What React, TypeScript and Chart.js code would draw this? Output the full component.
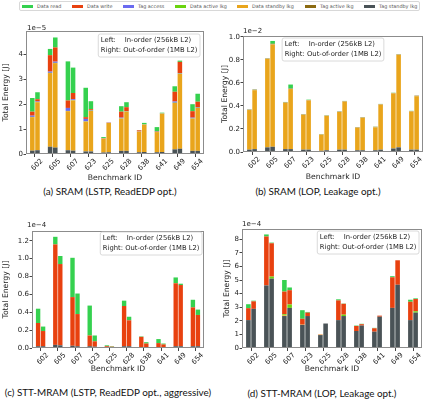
import React, { useEffect, useRef } from "react";
import { Chart, registerables } from "chart.js";

Chart.register(...registerables);

// ---------- categories ----------
const benchmarks = ["602", "605", "607", "623", "625", "628", "638", "641", "649", "654"];

// ---------- series (legend order) ----------
const seriesLabels = ["Data read", "Data write", "Tag access", "Data active lkg", "Data standby lkg", "Tag active lkg", "Tag standby lkg"];
const seriesColors = ["#35d14f", "#e8410f", "#6b6bf0", "#6ad40e", "#e9a51c", "#8b6a12", "#4a5357"];

// ---------- (a) SRAM (LSTP, ReadEDP opt.)  x1e-5 J ----------
const aTagStandbyIn = [0.13, 0.28, 0.15, 0.1, 0.06, 0.12, 0.07, 0.07, 0.18, 0.12];
const aTagActiveIn = [0.01, 0.02, 0.01, 0.01, 0.0, 0.01, 0.0, 0.0, 0.02, 0.01];
const aDataStandbyIn = [1.34, 2.95, 1.56, 1.19, 0.56, 1.29, 0.83, 0.81, 1.85, 1.29];
const aDataActiveIn = [0.01, 0.01, 0.01, 0.01, 0.0, 0.01, 0.0, 0.01, 0.01, 0.01];
const aTagAccessIn = [0.05, 0.05, 0.12, 0.1, 0.01, 0.03, 0.01, 0.01, 0.05, 0.03];
const aDataWriteIn = [0.16, 0.66, 0.3, 0.07, 0.01, 0.24, 0.04, 0.02, 0.39, 0.26];
const aDataReadIn = [0.55, 0.25, 1.57, 1.18, 0.04, 0.22, 0.01, 0.16, 0.22, 0.28];
const aTagStandbyOut = [0.15, 0.25, 0.13, 0.1, 0.07, 0.12, 0.08, 0.08, 0.2, 0.12];
const aTagActiveOut = [0.01, 0.02, 0.01, 0.01, 0.0, 0.01, 0.0, 0.0, 0.02, 0.01];
const aDataStandbyOut = [1.92, 3.38, 2.01, 1.62, 1.18, 1.57, 1.1, 1.54, 3.0, 1.72];
const aDataActiveOut = [0.01, 0.01, 0.01, 0.01, 0.0, 0.01, 0.01, 0.01, 0.01, 0.01];
const aTagAccessOut = [0.02, 0.05, 0.04, 0.02, 0.01, 0.01, 0.01, 0.01, 0.02, 0.02];
const aDataWriteOut = [0.09, 0.57, 0.25, 0.04, 0.01, 0.16, 0.0, 0.0, 0.45, 0.22];
const aDataReadOut = [0.28, 0.4, 1.02, 0.32, 0.0, 0.2, 0.05, 0.02, 0.05, 0.32];

// ---------- (b) SRAM (LOP, Leakage opt.)  x1e-2 J ----------
const bTagStandbyIn = [0.02, 0.04, 0.025, 0.02, 0.01, 0.02, 0.015, 0.015, 0.03, 0.02];
const bTagActiveIn = [0.001, 0.001, 0.001, 0.001, 0.001, 0.001, 0.001, 0.001, 0.001, 0.001];
const bDataStandbyIn = [0.343, 0.767, 0.401, 0.302, 0.14, 0.326, 0.195, 0.198, 0.477, 0.33];
const bDataActiveIn = [0.001, 0.001, 0.001, 0.001, 0.001, 0.001, 0.001, 0.001, 0.001, 0.001];
const bTagAccessIn = [0.001, 0.001, 0.001, 0.001, 0.001, 0.001, 0.001, 0.001, 0.001, 0.001];
const bDataWriteIn = [0.002, 0.002, 0.002, 0.002, 0.001, 0.002, 0.002, 0.002, 0.002, 0.002];
const bDataReadIn = [0.002, 0.002, 0.003, 0.002, 0.002, 0.002, 0.002, 0.002, 0.002, 0.002];
const bTagStandbyOut = [0.025, 0.045, 0.025, 0.02, 0.015, 0.02, 0.015, 0.02, 0.04, 0.02];
const bTagActiveOut = [0.001, 0.001, 0.001, 0.001, 0.001, 0.001, 0.001, 0.001, 0.001, 0.001];
const bDataStandbyOut = [0.51, 0.886, 0.52, 0.426, 0.298, 0.416, 0.281, 0.39, 0.802, 0.463];
const bDataActiveOut = [0.001, 0.001, 0.001, 0.001, 0.001, 0.001, 0.001, 0.001, 0.001, 0.001];
const bTagAccessOut = [0.001, 0.001, 0.001, 0.001, 0.001, 0.001, 0.001, 0.001, 0.001, 0.001];
const bDataWriteOut = [0.002, 0.004, 0.002, 0.002, 0.001, 0.002, 0.002, 0.002, 0.002, 0.002];
const bDataReadOut = [0.003, 0.025, 0.035, 0.003, 0.002, 0.002, 0.002, 0.002, 0.002, 0.002];

// ---------- (c) STT-MRAM (LSTP, ReadEDP opt., aggressive)  x1e-4 J ----------
const cTagStandbyIn = [0.02, 0.035, 0.025, 0.02, 0.005, 0.02, 0.01, 0.01, 0.02, 0.02];
const cTagActiveIn = [0, 0, 0, 0, 0, 0, 0, 0, 0, 0];
const cDataStandbyIn = [0, 0, 0, 0, 0, 0, 0, 0, 0, 0];
const cDataActiveIn = [0, 0, 0, 0, 0, 0, 0, 0, 0, 0];
const cTagAccessIn = [0, 0, 0, 0, 0, 0, 0, 0, 0, 0];
const cDataWriteIn = [0.26, 1.125, 0.545, 0.12, 0.015, 0.45, 0.115, 0.045, 0.705, 0.435];
const cDataReadIn = [0.16, 0.085, 0.44, 0.335, 0.01, 0.06, 0.005, 0.045, 0.065, 0.085];
const cTagStandbyOut = [0.02, 0.03, 0.02, 0.015, 0.005, 0.02, 0.01, 0.01, 0.02, 0.02];
const cTagActiveOut = [0, 0, 0, 0, 0, 0, 0, 0, 0, 0];
const cDataStandbyOut = [0, 0, 0, 0, 0, 0, 0, 0, 0, 0];
const cDataActiveOut = [0, 0, 0, 0, 0, 0, 0, 0, 0, 0];
const cTagAccessOut = [0, 0, 0, 0, 0, 0, 0, 0, 0, 0];
const cDataWriteOut = [0.17, 0.91, 0.36, 0.06, 0.01, 0.29, 0.04, 0.03, 0.685, 0.35];
const cDataReadOut = [0.05, 0.09, 0.23, 0.065, 0.005, 0.04, 0.015, 0.01, 0.015, 0.06];

// ---------- (d) STT-MRAM (LOP, Leakage opt.)  x1e-4 J ----------
const dTagStandbyIn = [2.05, 4.6, 2.35, 1.7, 0.95, 2.05, 1.25, 1.2, 2.95, 2.05];
const dTagActiveIn = [0, 0, 0, 0, 0, 0, 0, 0, 0, 0];
const dDataStandbyIn = [0.0, 0.0, 0.05, 0.02, 0.03, 0.0, 0.0, 0.0, 0.0, 0.0];
const dDataActiveIn = [0.0, 0.0, 0.08, 0.0, 0.0, 0.0, 0.0, 0.0, 0.0, 0.0];
const dTagAccessIn = [0, 0, 0, 0, 0, 0, 0, 0, 0, 0];
const dDataWriteIn = [0.88, 3.6, 1.67, 0.43, 0.02, 1.45, 0.37, 0.25, 2.25, 1.35];
const dDataReadIn = [0.29, 0.15, 0.85, 0.63, 0.0, 0.08, 0.03, 0.03, 0.08, 0.15];
const dTagStandbyOut = [2.88, 5.1, 2.95, 2.35, 1.8, 2.35, 1.65, 2.3, 4.65, 2.6];
const dTagActiveOut = [0, 0, 0, 0, 0, 0, 0, 0, 0, 0];
const dDataStandbyOut = [0.0, 0.0, 0.0, 0.0, 0.0, 0.0, 0.0, 0.0, 0.0, 0.0];
const dDataActiveOut = [0.0, 0.15, 0.25, 0.0, 0.0, 0.1, 0.0, 0.0, 0.0, 0.1];
const dTagAccessOut = [0, 0, 0, 0, 0, 0, 0, 0, 0, 0];
const dDataWriteOut = [0.55, 2.45, 1.05, 0.25, 0.0, 0.8, 0.1, 0.08, 1.8, 0.9];
const dDataReadOut = [0.05, 0.05, 0.2, 0.05, 0.0, 0.02, 0.03, 0.0, 0.0, 0.05];

// ---------- captions / texts ----------
const captions = [
  "(a) SRAM (LSTP, ReadEDP opt.)",
  "(b) SRAM (LOP, Leakage opt.)",
  "(c) STT-MRAM (LSTP, ReadEDP opt., aggressive)",
  "(d) STT-MRAM (LOP, Leakage opt.)",
];
const exponents = ["1e\u22125", "1e\u22122", "1e\u22124", "1e\u22124"];
const yMaxes = [4.94, 1.006, 1.31, 8.75];
const ySteps = [1, 0.2, 0.2, 1];
const yDecimals = [0, 1, 1, 0];
const annotLeft = ["Left:", "In-order (256kB L2)"];
const annotRight = "Right: Out-of-order (1MB L2)";
const xTitle = "Benchmark ID";
const yTitle = "Total Energy [J]";

// stacking order bottom -> top: Tag standby, Tag active, Data standby, Data active, Tag access, Data write, Data read
const panelSeries = [
  [[aTagStandbyIn, aTagStandbyOut], [aTagActiveIn, aTagActiveOut], [aDataStandbyIn, aDataStandbyOut], [aDataActiveIn, aDataActiveOut], [aTagAccessIn, aTagAccessOut], [aDataWriteIn, aDataWriteOut], [aDataReadIn, aDataReadOut]],
  [[bTagStandbyIn, bTagStandbyOut], [bTagActiveIn, bTagActiveOut], [bDataStandbyIn, bDataStandbyOut], [bDataActiveIn, bDataActiveOut], [bTagAccessIn, bTagAccessOut], [bDataWriteIn, bDataWriteOut], [bDataReadIn, bDataReadOut]],
  [[cTagStandbyIn, cTagStandbyOut], [cTagActiveIn, cTagActiveOut], [cDataStandbyIn, cDataStandbyOut], [cDataActiveIn, cDataActiveOut], [cTagAccessIn, cTagAccessOut], [cDataWriteIn, cDataWriteOut], [cDataReadIn, cDataReadOut]],
  [[dTagStandbyIn, dTagStandbyOut], [dTagActiveIn, dTagActiveOut], [dDataStandbyIn, dDataStandbyOut], [dDataActiveIn, dDataActiveOut], [dTagAccessIn, dTagAccessOut], [dDataWriteIn, dDataWriteOut], [dDataReadIn, dDataReadOut]],
];
// index into legend arrays for each stacking level
const stackToLegend = [6, 5, 4, 3, 2, 1, 0];

// ---------- layout ----------
const geom = [
  { x: 0, y: 14, w: 212, h: 169, padTop: 17, padRight: 8, yW: 26, xH: 29, yTitlePad: 1.4, xTitlePad: 0.4, expDx: 1, expDy: 3, annot: "right", annotDx: 4, annotDy: 3 },
  { x: 212, y: 14, w: 213, h: 169, padTop: 22, padRight: 2, yW: 31, xH: 31, yTitlePad: 8.4, xTitlePad: 1.7, expDx: 0, expDy: 5, annot: "center", annotDx: 0, annotDy: 2 },
  { x: 0, y: 212, w: 212, h: 162, padTop: 19, padRight: 8, yW: 32, xH: 26, yTitlePad: 1.4, xTitlePad: 0.2, expDx: -5, expDy: 6, annot: "right", annotDx: 2, annotDy: 1 },
  { x: 212, y: 212, w: 213, h: 162, padTop: 17, padRight: 3, yW: 30, xH: 26, yTitlePad: 10.4, xTitlePad: 0.2, expDx: 0, expDy: 5, annot: "right", annotDx: 3, annotDy: 2 },
];
const captionPos = [
  { cx: 110, cy: 191 },
  { cx: 318, cy: 191 },
  { cx: 108, cy: 392 },
  { cx: 322, cy: 393 },
];
const legendX = [22, 72, 123, 175, 237, 305, 364];

const FONT = "'DejaVu Sans', sans-serif";

function buildConfig(i: number) {
  const g = geom[i];
  const datasets: any[] = [];
  panelSeries[i].forEach((pair, lvl) => {
    const li = stackToLegend[lvl];
    ["in", "out"].forEach((stack, si) => {
      datasets.push({
        label: seriesLabels[li],
        data: pair[si],
        backgroundColor: seriesColors[li],
        borderWidth: 0,
        stack,
        barPercentage: 0.88,
        categoryPercentage: 0.58,
      });
    });
  });

  const decorPlugin = {
    id: "decor" + i,
    afterDraw(chart: any) {
      const { ctx, chartArea } = chart;
      const { left, right, top, bottom } = chartArea;
      ctx.save();
      // frame
      ctx.strokeStyle = "#8c8c8c";
      ctx.lineWidth = 1;
      ctx.strokeRect(Math.round(left) + 0.5, Math.round(top) + 0.5, Math.round(right - left) - 1, Math.round(bottom - top) - 1);
      // exponent
      ctx.fillStyle = "#222";
      ctx.font = `7px ${FONT}`;
      ctx.textAlign = "left";
      ctx.textBaseline = "middle";
      ctx.fillText(exponents[i], left + g.expDx, top - g.expDy);
      // annotation box
      ctx.font = `6.8px ${FONT}`;
      const tw = ctx.measureText(annotRight).width;
      const bw = tw + 5;
      const bh = 23;
      let bx = right - g.annotDx - bw;
      if (g.annot === "center") bx = (left + right) / 2 - bw / 2;
      const by = top + g.annotDy;
      ctx.fillStyle = "rgba(255,255,255,0.85)";
      ctx.strokeStyle = "#d0d0d0";
      ctx.lineWidth = 0.8;
      ctx.beginPath();
      const r = 2;
      ctx.moveTo(bx + r, by);
      ctx.lineTo(bx + bw - r, by);
      ctx.quadraticCurveTo(bx + bw, by, bx + bw, by + r);
      ctx.lineTo(bx + bw, by + bh - r);
      ctx.quadraticCurveTo(bx + bw, by + bh, bx + bw - r, by + bh);
      ctx.lineTo(bx + r, by + bh);
      ctx.quadraticCurveTo(bx, by + bh, bx, by + bh - r);
      ctx.lineTo(bx, by + r);
      ctx.quadraticCurveTo(bx, by, bx + r, by);
      ctx.closePath();
      ctx.fill();
      ctx.stroke();
      ctx.fillStyle = "#222";
      ctx.textBaseline = "middle";
      ctx.fillText(annotLeft[0], bx + 2.5, by + 6.5);
      ctx.fillText(annotLeft[1], bx + 2.5 + 24, by + 6.5);
      ctx.fillText(annotRight, bx + 2.5, by + 16.5);
      ctx.restore();
    },
  };

  return {
    type: "bar" as const,
    data: { labels: benchmarks, datasets },
    plugins: [decorPlugin],
    options: {
      responsive: false,
      animation: false as const,
      devicePixelRatio: 1,
      layout: { padding: { top: g.padTop, right: g.padRight, left: 0, bottom: 0 } },
      plugins: { legend: { display: false }, tooltip: { enabled: false } },
      scales: {
        x: {
          stacked: true,
          offset: true,
          border: { display: false },
          grid: { offset: false, drawOnChartArea: false, drawTicks: true, tickLength: 3, color: "#444" },
          ticks: { font: { family: FONT, size: 7 }, color: "#222", minRotation: 45, maxRotation: 45, labelOffset: 7, padding: 0, autoSkip: false },
          title: { display: true, text: xTitle, font: { family: FONT, size: 7.7 }, color: "#222", padding: { top: 0, bottom: g.xTitlePad } },
          afterFit: (s: any) => { s.height = g.xH; },
        },
        y: {
          stacked: true,
          min: 0,
          max: yMaxes[i],
          border: { display: false },
          grid: { drawOnChartArea: false, drawTicks: true, tickLength: 2.5, color: "#444" },
          ticks: {
            stepSize: ySteps[i],
            includeBounds: false,
            font: { family: FONT, size: 7 },
            color: "#222",
            padding: 0.5,
            callback: (v: any) => Number(v).toFixed(yDecimals[i]),
          },
          title: { display: true, text: yTitle, font: { family: FONT, size: 7.7 }, color: "#222", padding: { top: g.yTitlePad, bottom: 0 } },
          afterFit: (s: any) => { s.width = g.yW; },
        },
      },
    },
  };
}

function Panel({ index }: { index: number }) {
  const ref = useRef<HTMLCanvasElement | null>(null);
  useEffect(() => {
    if (!ref.current) return;
    const chart = new Chart(ref.current, buildConfig(index) as any);
    return () => chart.destroy();
  }, [index]);
  const g = geom[index];
  return (
    <canvas
      ref={ref}
      width={g.w}
      height={g.h}
      style={{ position: "absolute", left: g.x, top: g.y, width: g.w, height: g.h }}
    />
  );
}

export default function App() {
  return (
    <div style={{ position: "fixed", left: 0, top: 0, width: 425, height: 400, background: "#fff", overflow: "hidden" }}>
      {/* legend */}
      <div style={{ position: "absolute", left: 19, top: 1, width: 401, height: 10, border: "1px solid #d8d8d8", borderRadius: 2, boxSizing: "border-box" }} />
      {seriesLabels.map((lab, k) => (
        <React.Fragment key={lab}>
          <div style={{ position: "absolute", left: legendX[k], top: 4.5, width: 11, height: 3.4, background: seriesColors[k] }} />
          <div style={{ position: "absolute", left: legendX[k] + 15, top: 2, height: 8, lineHeight: "8px", fontFamily: FONT, fontSize: 4.9, color: "#555", whiteSpace: "nowrap" }}>{lab}</div>
        </React.Fragment>
      ))}
      {[0, 1, 2, 3].map((k) => (
        <Panel key={k} index={k} />
      ))}
      {captions.map((c, k) => (
        <div key={c} style={{ position: "absolute", left: captionPos[k].cx - 120, width: 240, top: captionPos[k].cy - 6, height: 12, lineHeight: "12px", textAlign: "center", fontFamily: "Lato, 'Open Sans', sans-serif", fontSize: 9.9, color: "#111", whiteSpace: "nowrap" }}>{c}</div>
      ))}
    </div>
  );
}
